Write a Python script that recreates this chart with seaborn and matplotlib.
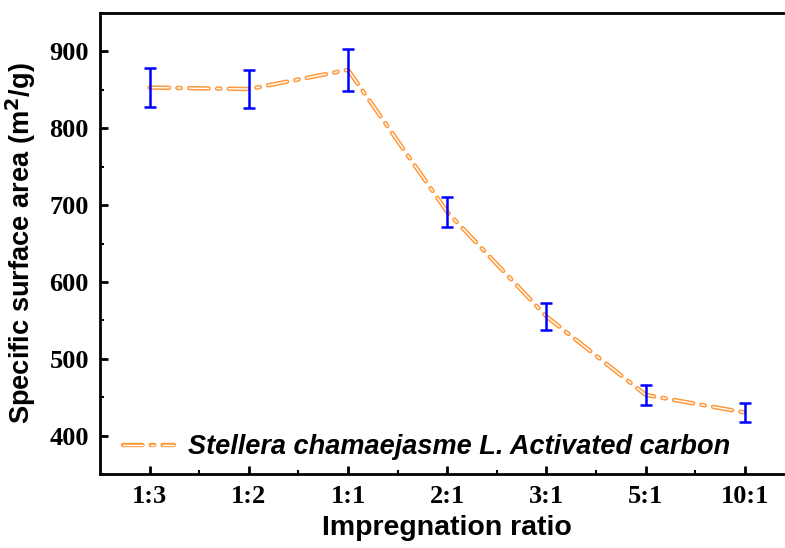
import matplotlib
matplotlib.use("Agg")
import matplotlib.pyplot as plt
import matplotlib.patheffects as pe
from matplotlib.ticker import MultipleLocator, FixedLocator
from matplotlib.font_manager import FontProperties
import seaborn as sns
import pandas as pd

ratios = ["1:3", "1:2", "1:1", "2:1", "3:1", "5:1", "10:1"]
surface_area = [853, 851, 876, 691, 555, 453, 430]
errors = [25, 25, 27, 20, 17, 13, 12]
series_label = "Stellera chamaejasme L. Activated carbon"

sns.set_theme(style="ticks")
plt.rcParams["lines.scale_dashes"] = False

df = pd.DataFrame({"idx": range(len(ratios)), "area": surface_area})

fig = plt.figure(figsize=(7.85, 5.48), dpi=100)
ax = fig.add_axes([100 / 785, 74 / 548, 694.5 / 785, 461 / 548])

orange = "#FF9A3C"
sns.lineplot(data=df, x="idx", y="area", ax=ax, color="white", lw=1.0,
             label=series_label, zorder=3)
line = ax.lines[0]
line.set_dashes((14, 6, 2.5, 6))
line.set_dash_capstyle("round")
line.set_path_effects([pe.Stroke(linewidth=3.2, foreground=orange), pe.Normal()])

ax.errorbar(df["idx"], df["area"], yerr=errors, fmt="none", ecolor="#0000FF",
            elinewidth=1.8, capsize=4.5, capthick=1.8, zorder=4)

ax.set_xlim(-0.5, 6.5)
ax.set_ylim(350, 950)
ax.xaxis.set_major_locator(FixedLocator(range(len(ratios))))
ax.set_xticklabels(ratios)
ax.xaxis.set_minor_locator(FixedLocator([i + 0.5 for i in range(len(ratios))]))
ax.yaxis.set_major_locator(FixedLocator([400, 500, 600, 700, 800, 900]))
ax.yaxis.set_minor_locator(MultipleLocator(50))

ax.tick_params(which="major", direction="in", length=6, width=2, color="black",
               top=False, right=False, pad=8)
ax.tick_params(which="minor", direction="in", length=3, width=1.5, color="black",
               top=False, right=False)
for lab in ax.get_xticklabels() + ax.get_yticklabels():
    lab.set_fontfamily("Liberation Serif")
    lab.set_fontweight("bold")
    lab.set_fontsize(19)
    lab.set_color("black")

for s in ax.spines.values():
    s.set_linewidth(2)
    s.set_color("black")

ax.set_xlabel("Impregnation ratio", fontfamily="Liberation Sans", fontweight="bold",
              fontsize=20.5, color="black", labelpad=5)
ax.set_ylabel("Specific surface area (m$^\\mathbf{2}$/g)", fontfamily="Liberation Sans",
              fontweight="bold", fontsize=19.6, color="black", labelpad=8)

leg_font = FontProperties(family="Liberation Sans", weight="bold", style="italic", size=19.5)
leg = ax.legend(loc="center left", bbox_to_anchor=(0.017, 0.058), frameon=False,
                prop=leg_font, handlelength=1.9, handletextpad=0.5,
                borderaxespad=0, borderpad=0.4)
for t in leg.get_texts():
    t.set_fontproperties(leg_font)
    t.set_color("black")

fig.savefig("out.png", dpi=100)
